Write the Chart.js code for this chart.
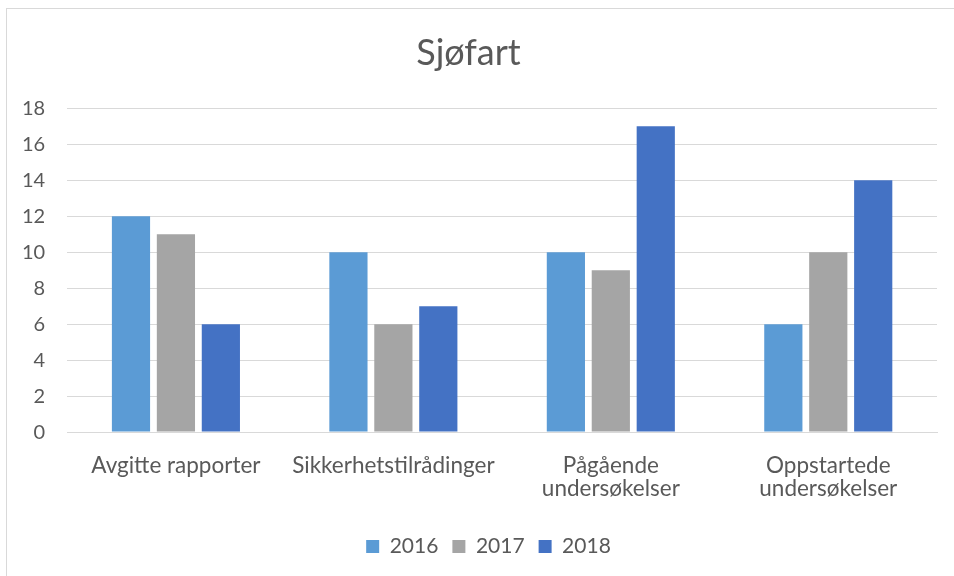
<!DOCTYPE html>
<html>
<head>
<meta charset="utf-8">
<script src="https://cdn.jsdelivr.net/npm/chart.js@4/dist/chart.umd.min.js"></script>
<style>
  html, body { margin: 0; padding: 0; overflow: hidden; background: #fff; }
  #wrap { position: relative; width: 954px; height: 576px; }
  #frame { position: absolute; left: 6px; top: 8px; width: 1000px; height: 1000px; border: 1px solid #d9d9d9; box-sizing: border-box; }
  canvas { position: absolute; left: 0; top: 0; }
</style>
</head>
<body>
<div id="wrap">
  <div id="frame"></div>
  <canvas id="chart" width="954" height="576"></canvas>
</div>
<script>
const categories = [
  'Avgitte rapporter',
  'Sikkerhetstilrådinger',
  ['Pågående', 'undersøkelser'],
  ['Oppstartede', 'undersøkelser']
];
const series2016 = [12, 10, 10, 6];
const series2017 = [11, 6, 9, 10];
const series2018 = [6, 7, 17, 14];

const font = "Lato, 'Open Sans', sans-serif";

// legend sits a bit right of centre and lower in the original
const legendShift = {
  id: 'legendShift',
  afterLayout(chart) {
    const lg = chart.legend;
    lg.left += 20;
    lg.right += 20;
    lg.top += 8;
    lg.bottom += 8;
  }
};

const ctx = document.getElementById('chart').getContext('2d');
new Chart(ctx, {
  type: 'bar',
  data: {
    labels: categories,
    datasets: [
      { label: '2016', data: series2016, backgroundColor: '#5b9bd5' },
      { label: '2017', data: series2017, backgroundColor: '#a5a5a5' },
      { label: '2018', data: series2018, backgroundColor: '#4472c4' }
    ]
  },
  plugins: [legendShift],
  options: {
    responsive: false,
    animation: false,
    layout: { padding: { left: 0, right: 17, top: 0, bottom: 17 } },
    datasets: { bar: { categoryPercentage: 0.62, barPercentage: 0.85 } },
    plugins: {
      title: {
        display: true,
        text: 'Sjøfart',
        color: '#595959',
        font: { family: font, size: 36, weight: 'normal' },
        padding: { top: 32, bottom: 33 }
      },
      legend: {
        position: 'bottom',
        labels: {
          color: '#595959',
          font: { family: font, size: 21 },
          boxWidth: 13,
          boxHeight: 13,
          padding: 14
        }
      },
      tooltip: { enabled: false }
    },
    scales: {
      x: {
        grid: { display: false },
        border: { color: '#d9d9d9', width: 1 },
        ticks: { color: '#595959', font: { family: font, size: 22.5, lineHeight: 1.02 }, padding: 14, maxRotation: 0, autoSkip: false }
      },
      y: {
        min: 0,
        max: 18,
        ticks: { stepSize: 2, color: '#595959', font: { family: font, size: 20 }, padding: 22 },
        grid: { color: '#d9d9d9', drawTicks: false },
        border: { display: false }
      }
    }
  }
});
</script>
</body>
</html>
